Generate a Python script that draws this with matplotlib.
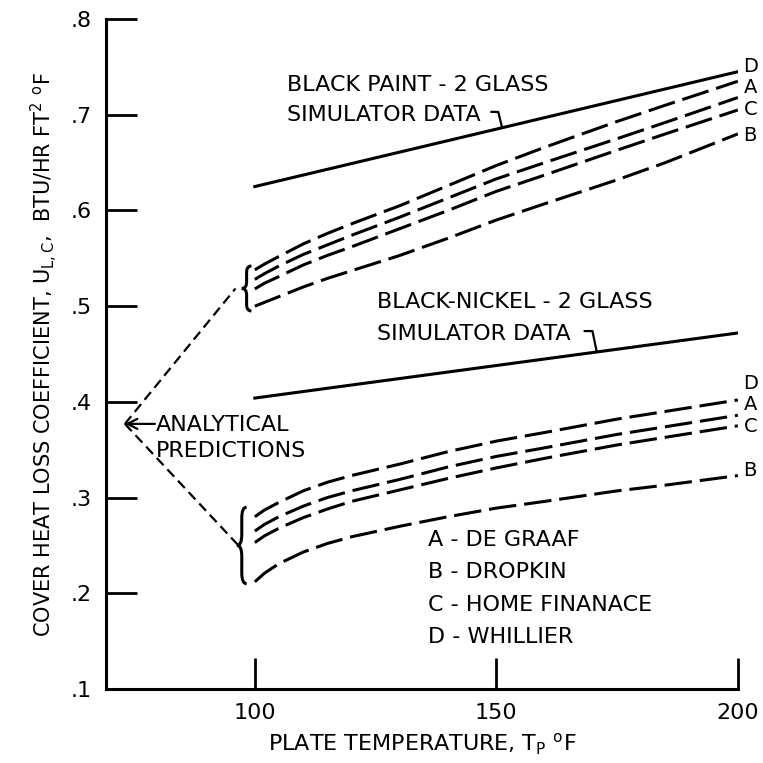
import numpy as np
import matplotlib
matplotlib.use("Agg")
import matplotlib.pyplot as plt
from matplotlib.path import Path
from matplotlib.patches import PathPatch

plt.rcParams['font.family'] = ['DejaVu Sans']

# plate temperature, deg F
temp = [100, 102, 105, 110, 115, 120, 130, 140, 150, 160, 175, 185, 200]

# black paint, 2 glass - analytical predictions
paint_D = [0.538, 0.544, 0.552, 0.565, 0.576, 0.586, 0.605, 0.626, 0.647, 0.666, 0.693, 0.710, 0.735]
paint_A = [0.528, 0.534, 0.542, 0.554, 0.564, 0.574, 0.593, 0.613, 0.633, 0.650, 0.675, 0.692, 0.718]
paint_C = [0.518, 0.524, 0.531, 0.543, 0.553, 0.562, 0.581, 0.600, 0.620, 0.637, 0.663, 0.680, 0.705]
paint_B = [0.500, 0.504, 0.510, 0.520, 0.529, 0.537, 0.553, 0.571, 0.590, 0.607, 0.632, 0.650, 0.680]

# black nickel, 2 glass - analytical predictions
nickel_D = [0.280, 0.287, 0.295, 0.307, 0.316, 0.323, 0.335, 0.348, 0.359, 0.368, 0.382, 0.390, 0.402]
nickel_A = [0.265, 0.272, 0.280, 0.291, 0.300, 0.307, 0.319, 0.332, 0.343, 0.352, 0.366, 0.374, 0.386]
nickel_C = [0.253, 0.260, 0.268, 0.279, 0.288, 0.296, 0.308, 0.320, 0.331, 0.341, 0.355, 0.363, 0.375]
nickel_B = [0.212, 0.221, 0.231, 0.243, 0.252, 0.259, 0.270, 0.280, 0.289, 0.296, 0.307, 0.313, 0.323]

# simulator data (straight lines)
sim_temp = [100, 200]
sim_paint = [0.625, 0.745]
sim_nickel = [0.404, 0.472]

legend_lines = ["A - DE GRAAF", "B - DROPKIN", "C - HOME FINANACE", "D - WHILLIER"]

FS = 16


def brace(ax, x, ylo, yhi, w):
    ym = (ylo + yhi) / 2
    q = 0.14 * (yhi - ylo)
    verts = [(x + w / 2, yhi), (x, yhi), (x, yhi - q),
             (x, ym + q),
             (x, ym), (x - w / 2, ym),
             (x, ym), (x, ym - q),
             (x, ylo + q),
             (x, ylo), (x + w / 2, ylo)]
    codes = [Path.MOVETO, Path.CURVE3, Path.CURVE3,
             Path.LINETO,
             Path.CURVE3, Path.CURVE3,
             Path.CURVE3, Path.CURVE3,
             Path.LINETO,
             Path.CURVE3, Path.CURVE3]
    ax.add_patch(PathPatch(Path(verts, codes), fill=False, lw=2.2, color='black'))


fig = plt.figure(figsize=(7.63, 7.63), dpi=100)
ax = fig.add_axes([0.139, 0.097, 0.828, 0.878])

dash = dict(color='black', lw=2.2, dashes=(9, 2.6), dash_capstyle='butt')
for ys in (paint_D, paint_A, paint_C, paint_B, nickel_D, nickel_A, nickel_C, nickel_B):
    ax.plot(temp, ys, **dash)

ax.plot(sim_temp, sim_paint, color='black', lw=2.2)
ax.plot(sim_temp, sim_nickel, color='black', lw=2.2)

# curve letters at the right end
for lab, yv in zip("DACB", [0.750, 0.729, 0.706, 0.678]):
    ax.text(201.2, yv, lab, fontsize=14, ha='left', va='center')
for lab, yv in zip("DACB", [0.419, 0.397, 0.374, 0.328]):
    ax.text(201.2, yv, lab, fontsize=14, ha='left', va='center')

# simulator data labels with hooks
ax.text(106.6, 0.731, "BLACK PAINT - 2 GLASS", fontsize=FS, va='center')
ax.text(106.6, 0.700, "SIMULATOR DATA", fontsize=FS, va='center')
hx = 151.2
ax.plot([149.0, 150.4, hx], [0.703, 0.703, np.interp(hx, sim_temp, sim_paint)],
        color='black', lw=1.6)

ax.text(125.3, 0.504, "BLACK-NICKEL - 2 GLASS", fontsize=FS, va='center')
ax.text(125.3, 0.471, "SIMULATOR DATA", fontsize=FS, va='center')
hx = 170.8
ax.plot([168.3, 169.9, hx], [0.474, 0.474, np.interp(hx, sim_temp, sim_nickel)],
        color='black', lw=1.6)

# analytical predictions callout
brace(ax, 98.3, 0.495, 0.542, 2.0)
brace(ax, 97.3, 0.210, 0.290, 2.0)
tip = (73.1, 0.377)
conn = dict(color='black', lw=1.6, dashes=(4.5, 2.5))
ax.plot([tip[0], 96.0], [tip[1], 0.5185], **conn)
ax.plot([tip[0], 96.6], [tip[1], 0.250], **conn)
ax.annotate("", xy=tip, xytext=(79.3, 0.377),
            arrowprops=dict(arrowstyle='->', lw=1.6, color='black',
                            shrinkA=0, shrinkB=0, mutation_scale=18))
ax.text(79.6, 0.376, "ANALYTICAL", fontsize=FS, va='center')
ax.text(79.6, 0.349, "PREDICTIONS", fontsize=FS, va='center')

# method key
for i, s in enumerate(legend_lines):
    ax.text(135.8, 0.256 - i * 0.034, s, fontsize=FS, va='center')

ax.set_xlim(69.2, 200)
ax.set_ylim(0.1, 0.8)
ax.set_xticks([100, 150, 200])
ax.set_xticklabels(["100", "150", "200"])
ax.set_yticks([0.1, 0.2, 0.3, 0.4, 0.5, 0.6, 0.7, 0.8])
ax.set_yticklabels([".1", ".2", ".3", ".4", ".5", ".6", ".7", ".8"])
ax.tick_params(axis='both', direction='in', length=22, width=2, labelsize=FS)
ax.tick_params(axis='x', pad=10)
ax.tick_params(axis='y', pad=10)
for side in ('top', 'right'):
    ax.spines[side].set_visible(False)
for side in ('left', 'bottom'):
    ax.spines[side].set_linewidth(2.2)

ax.set_xlabel(r"PLATE TEMPERATURE, T$\mathregular{_P}$ $\mathregular{^oF}$", fontsize=FS, labelpad=6)
ax.set_ylabel(r"COVER HEAT LOSS COEFFICIENT, U$\mathregular{_{L,C}}$,  BTU/HR FT$\mathregular{^2}$ $\mathregular{^oF}$",
              fontsize=15, labelpad=8)

fig.savefig("out.png", dpi=100)
